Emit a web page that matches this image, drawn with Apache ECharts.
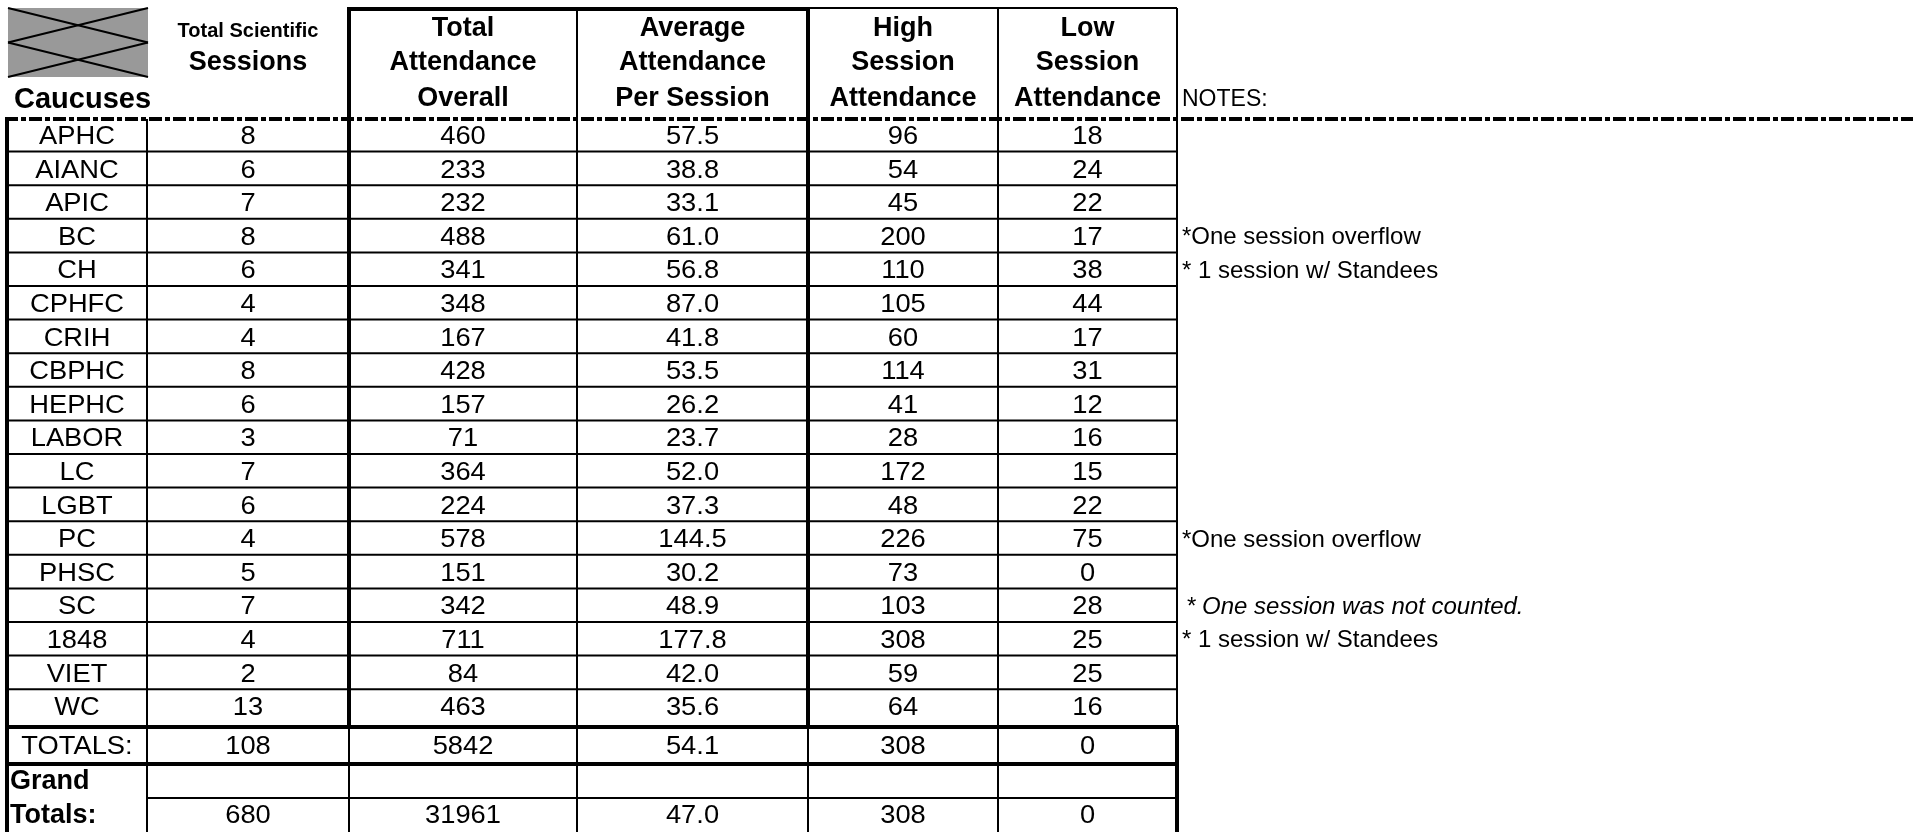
<!DOCTYPE html>
<html>
<head>
<meta charset="utf-8">
<script src="https://cdn.jsdelivr.net/npm/echarts@6/dist/echarts.min.js"></script>
<style>
html,body{margin:0;padding:0;background:#fff;}
#main{width:1913px;height:832px;}
</style>
</head>
<body>
<div id="main"></div>
<script>
// ---------- DATA ----------
const caucuses = ['APHC','AIANC','APIC','BC','CH','CPHFC','CRIH','CBPHC','HEPHC','LABOR','LC','LGBT','PC','PHSC','SC','1848','VIET','WC'];
const sessions = [8,6,7,8,6,4,4,8,6,3,7,6,4,5,7,4,2,13];
const totalAttendance = [460,233,232,488,341,348,167,428,157,71,364,224,578,151,342,711,84,463];
const avgAttendance = [57.5,38.8,33.1,61.0,56.8,87.0,41.8,53.5,26.2,23.7,52.0,37.3,144.5,30.2,48.9,177.8,42.0,35.6];
const highAttendance = [96,54,45,200,110,105,60,114,41,28,172,48,226,73,103,308,59,64];
const lowAttendance = [18,24,22,17,38,44,17,31,12,16,15,22,75,0,28,25,25,16];
const notes = ['','','','*One session overflow','* 1 session w/ Standees','','','','','','','','*One session overflow','','* One session was not counted.','* 1 session w/ Standees','',''];
const italicNotes = [false,false,false,false,false,false,false,false,false,false,false,false,false,false,true,false,false,false];
const totalsRow = ['TOTALS:',108,5842,54.1,308,0];
const grandLabel = ['Grand','Totals:'];
const grandRow = [680,31961,47.0,308,0];
const headers = [['Caucuses'],['Total Scientific','Sessions'],['Total','Attendance','Overall'],['Average','Attendance','Per Session'],['High','Session','Attendance'],['Low','Session','Attendance']];
const notesTitle = 'NOTES:';

// ---------- LAYOUT (layout units = px) ----------
const colEdges = [7,147,349,577,808,998,1177,1913];
const bodyTop = 118, rowH = 33.6;
function rowTop(r){ if(r<18) return bodyTop + r*rowH; return [727,764,798][r-18]; }
function rowBot(r){ if(r<18) return bodyTop + (r+1)*rowH; return [764,798,832][r-18]; }
const FONT = '"Liberation Sans", Arial, sans-serif';
const BODY = 26, BODY_SX = 1.05;

// ---------- CELLS ----------
const cells = [];
function fmt(v, c){ return c===3 ? Number(v).toFixed(1) : String(v); }
for (let i=0;i<caucuses.length;i++){
  const vals = [caucuses[i], sessions[i], totalAttendance[i], avgAttendance[i], highAttendance[i], lowAttendance[i]];
  vals.forEach((v,c)=>cells.push({col:c,row:i,text:fmt(v,c),size:BODY,sx:BODY_SX,weight:'normal',align:'center',dy:2}));
  if (notes[i]) cells.push({col:6,row:i,text:notes[i],size:24,weight:'normal',italic:italicNotes[i],align:'left',pad:italicNotes[i]?9:5,dy:2});
}
totalsRow.forEach((v,c)=>cells.push({col:c,row:18,text:fmt(v,c),size:BODY,sx:BODY_SX,weight:'normal',align:'center',dy:1}));
cells.push({col:0,row:19,text:grandLabel[0],size:27,weight:'bold',align:'left',pad:3,dy:1});
cells.push({col:0,row:20,text:grandLabel[1],size:27,weight:'bold',align:'left',pad:3,dy:1});
grandRow.forEach((v,c)=>cells.push({col:c+1,row:20,text:fmt(v,c+1),size:BODY,sx:BODY_SX,weight:'normal',align:'center',dy:1}));

// header texts
const headerY3 = [29,63,99];
headers.forEach((lines,c)=>{
  if (c===0){
    cells.push({col:0,hy:100,text:lines[0],size:29,weight:'bold',align:'left',pad:7});
  } else if (c===1){
    cells.push({col:1,hy:31,text:lines[0],size:20,weight:'bold',align:'center'});
    cells.push({col:1,hy:63,text:lines[1],size:27,weight:'bold',align:'center'});
  } else {
    lines.forEach((t,k)=>cells.push({col:c,hy:headerY3[k],text:t,size:27,weight:'bold',align:'center'}));
  }
});
cells.push({col:6,hy:100,text:notesTitle,size:23,weight:'normal',align:'left',pad:5});

// ---------- RULES ----------
const THIN = 2, THICK = 4;
const rules = [];
rules.push([808,8,1177,8,THIN]);
rules.push([347,9,810,9,THICK]);
for (let i=1;i<18;i++){ rules.push([7,bodyTop+i*rowH,1177,bodyTop+i*rowH,THIN]); }
rules.push([5,727,1179,727,THICK]);
rules.push([5,764,1179,764,THICK]);
rules.push([147,798,1177,798,THIN]);
rules.push([7,117,7,832,THICK]);
rules.push([147,119,147,832,THIN]);
rules.push([349,7,349,727,THICK]);
rules.push([349,727,349,832,THIN]);
rules.push([577,8,577,832,THIN]);
rules.push([808,7,808,727,THICK]);
rules.push([808,727,808,832,THIN]);
rules.push([998,8,998,832,THIN]);
rules.push([1177,8,1177,727,THIN]);
rules.push([1177,725,1177,832,THICK]);
rules.push([5,119,1913,119,4,[13,3,5,3]]);

const chart = echarts.init(document.getElementById('main'));
chart.setOption({
  animation:false,
  backgroundColor:'#ffffff',
  grid:{left:0,right:0,top:0,bottom:0},
  xAxis:{type:'value',min:0,max:1913,show:false},
  yAxis:{type:'value',min:0,max:832,inverse:true,show:false},
  series:[
    { // header decorative box
      type:'custom', clip:false, z:1,
      data:[[8,8]],
      renderItem:function(params,api){
        const a = api.coord([8,8]), b = api.coord([148,77]);
        const my = (a[1]+b[1])/2;
        const ls = {stroke:'#000',lineWidth:2};
        return {type:'group',children:[
          {type:'rect',shape:{x:a[0],y:a[1],width:b[0]-a[0],height:b[1]-a[1]},style:{fill:'#999999'}},
          {type:'line',shape:{x1:a[0],y1:a[1],x2:b[0],y2:my},style:ls},
          {type:'line',shape:{x1:a[0],y1:my,x2:b[0],y2:a[1]},style:ls},
          {type:'line',shape:{x1:a[0],y1:my,x2:b[0],y2:b[1]},style:ls},
          {type:'line',shape:{x1:a[0],y1:b[1],x2:b[0],y2:my},style:ls}
        ]};
      }
    },
    { // rules
      type:'custom', clip:false, z:2,
      data:rules.map(r=>[r[0],r[1]]),
      renderItem:function(params,api){
        const r = rules[params.dataIndex];
        const p1 = api.coord([r[0],r[1]]), p2 = api.coord([r[2],r[3]]);
        return {type:'line',shape:{x1:p1[0],y1:p1[1],x2:p2[0],y2:p2[1]},
          style:{stroke:'#000',lineWidth:r[4],lineDash:r[5]||null,lineCap:'butt'}};
      }
    },
    { // texts
      type:'custom', clip:false, z:3,
      data:cells.map(c=>[c.col, c.row===undefined?-1:c.row]),
      renderItem:function(params,api){
        const c = cells[params.dataIndex];
        const x0 = colEdges[c.col], x1 = colEdges[c.col+1];
        let ym;
        if (c.hy!==undefined) ym = c.hy; else ym = (rowTop(c.row)+rowBot(c.row))/2 + (c.dy||0);
        const xm = c.align==='left' ? x0 + (c.pad||0) : (x0+x1)/2;
        const p = api.coord([xm, ym]);
        return {type:'text', x:p[0], y:p[1], scaleX:c.sx||1,
          style:{text:c.text, fill:'#000', fontFamily:FONT, fontSize:c.size, fontWeight:c.weight,
            fontStyle:c.italic?'italic':'normal', align:c.align, verticalAlign:'middle'}};
      }
    }
  ]
});
</script>
</body>
</html>
